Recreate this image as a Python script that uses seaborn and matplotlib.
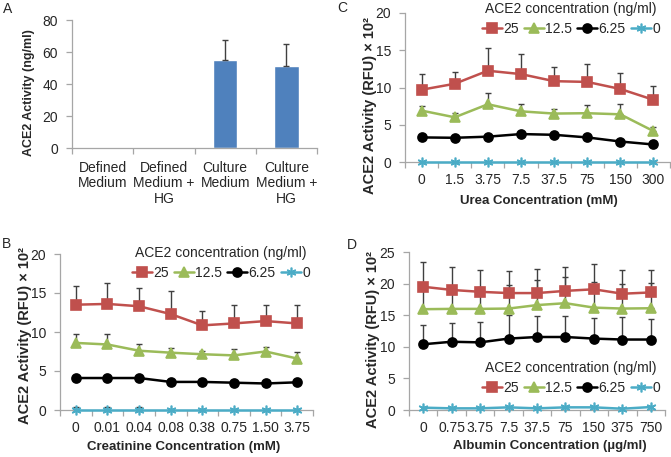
import numpy as np
import pandas as pd
import matplotlib
matplotlib.use("Agg")
import matplotlib.pyplot as plt
import seaborn as sns

# ---------------- data ----------------
a_categories = ["Defined\nMedium", "Defined\nMedium +\nHG", "Culture\nMedium", "Culture\nMedium +\nHG"]
a_values = [0, 0, 54.8, 51.5]
a_errors = [0, 0, 12.5, 13.7]

series_labels = ["25", "12.5", "6.25", "0"]

b_ticks = ["0", "0.01", "0.04", "0.08", "0.38", "0.75", "1.50", "3.75"]
b_25 = [13.5, 13.6, 13.3, 12.3, 10.85, 11.1, 11.4, 11.1]
b_25_err = [2.45, 2.7, 2.4, 3.0, 1.85, 2.4, 2.0, 2.4]
b_12 = [8.6, 8.4, 7.6, 7.35, 7.15, 7.0, 7.5, 6.6]
b_12_err = [1.1, 1.3, 0.9, 0.65, 0.45, 0.8, 0.6, 0.9]
b_6 = [4.1, 4.1, 4.1, 3.6, 3.6, 3.5, 3.4, 3.55]
b_6_err = [0.15, 0.15, 0.15, 0.15, 0.15, 0.15, 0.15, 0.15]
b_0 = [0.05, 0.05, 0.05, 0.05, 0.05, 0.05, 0.05, 0.05]
b_0_err = [0.3, 0.3, 0.3, 0.1, 0.1, 0.1, 0.1, 0.1]

c_ticks = ["0", "1.5", "3.75", "7.5", "37.5", "75", "150", "300"]
c_25 = [9.7, 10.5, 12.25, 11.8, 10.85, 10.75, 9.8, 8.35]
c_25_err = [2.05, 1.6, 3.05, 2.65, 1.85, 2.45, 2.2, 1.9]
c_12 = [6.9, 6.0, 7.75, 6.8, 6.5, 6.55, 6.4, 4.15]
c_12_err = [0.6, 0.55, 1.45, 1.05, 0.6, 1.1, 1.4, 0.5]
c_6 = [3.3, 3.25, 3.4, 3.75, 3.65, 3.3, 2.75, 2.35]
c_6_err = [0.15, 0.15, 0.15, 0.15, 0.15, 0.15, 0.15, 0.15]
c_0 = [0, 0, 0, 0, 0, 0, 0, 0]
c_0_err = [0, 0, 0, 0, 0, 0, 0, 0]

d_ticks = ["0", "0.75", "3.75", "7.5", "37.5", "75", "150", "375", "750"]
d_25 = [19.5, 19.0, 18.7, 18.5, 18.5, 18.85, 19.1, 18.4, 18.6]
d_25_err = [3.85, 3.6, 3.4, 3.5, 3.8, 3.75, 4.0, 3.7, 3.5]
d_12 = [15.95, 16.0, 16.0, 16.05, 16.6, 16.9, 16.2, 16.05, 16.1]
d_12_err = [3.65, 3.5, 3.4, 3.75, 4.0, 4.1, 4.0, 3.85, 4.0]
d_6 = [10.4, 10.8, 10.7, 11.3, 11.55, 11.55, 11.3, 11.15, 11.15]
d_6_err = [3.05, 3.0, 3.2, 3.7, 3.4, 3.35, 3.25, 3.5, 3.25]
d_0 = [0.37, 0.26, 0.26, 0.42, 0.26, 0.42, 0.42, 0.2, 0.47]
d_0_err = [0, 0, 0, 0, 0, 0, 0, 0, 0]

# ---------------- style ----------------
sns.set_style("ticks")
plt.rcParams["font.family"] = ["Liberation Sans", "DejaVu Sans"]
AXC = "#a6a6a6"
colors = {"25": "#c0504d", "12.5": "#9bbb59", "6.25": "#000000", "0": "#4bacc6"}
markers = {"25": "s", "12.5": "^", "6.25": "o", "0": (6, 2, 0)}
msizes = {"25": 6.5, "12.5": 6.5, "6.25": 6.5, "0": 7}
TICK_FS = 10
ERRC = "#404040"

W, H = 671, 457
fig = plt.figure(figsize=(W / 100, H / 100), dpi=100)


def add_axes_px(left, top, right, bottom):
    return fig.add_axes([left / W, 1 - bottom / H, (right - left) / W, (bottom - top) / H])


def style_axes(ax, n, labels, ylim, yticks):
    for s in ["top", "right"]:
        ax.spines[s].set_visible(False)
    for s in ["left", "bottom"]:
        ax.spines[s].set_color(AXC)
        ax.spines[s].set_linewidth(0.9)
    ax.set_xlim(-0.5, n - 0.5)
    ax.set_xticks(np.arange(n + 1) - 0.5)
    ax.set_xticklabels([""] * (n + 1))
    ax.set_xticks(np.arange(n), minor=True)
    ax.set_xticklabels(labels, minor=True, fontsize=TICK_FS)
    ax.tick_params(axis="x", which="major", direction="out", length=4, color=AXC, width=0.9)
    ax.tick_params(axis="x", which="minor", length=0, pad=8)
    ax.set_ylim(*ylim)
    ax.set_yticks(yticks)
    ax.set_yticklabels([str(t) for t in yticks], fontsize=TICK_FS)
    ax.tick_params(axis="y", direction="out", length=4, color=AXC, width=0.9, pad=6)
    ax.set_xlabel("")
    ax.set_ylabel("")


def draw_errors(ax, pos, vals, errs, z):
    pos = np.asarray(pos)
    v = np.asarray(vals, dtype=float)
    e = np.asarray(errs, dtype=float)
    keep = e > 0
    if keep.any():
        ax.errorbar(pos[keep], v[keep], yerr=[np.zeros(keep.sum()), e[keep]], fmt="none",
                    ecolor=ERRC, elinewidth=1.0, capsize=2.2, capthick=1.0, zorder=z)


def line_panel(ax, ticks, vals, errs, ylim, yticks, xlabel, xlab_px, ylab_px, leg_px):
    n = len(ticks)
    pos = np.arange(n)
    for v, e in zip(vals, errs):
        draw_errors(ax, pos, v, e, 1.5)
    for lab, v in zip(series_labels, vals):
        df = pd.DataFrame({"pos": pos, "value": v})
        sns.lineplot(data=df, x="pos", y="value", ax=ax, color=colors[lab],
                     marker=markers[lab], markersize=msizes[lab],
                     markeredgecolor=colors[lab], markerfacecolor=colors[lab],
                     markeredgewidth=1.2, linewidth=1.8, label=lab, zorder=3,
                     clip_on=False)
    style_axes(ax, n, ticks, ylim, yticks)
    ax.set_xlabel(xlabel, fontsize=9.5, fontweight="bold")
    ax.xaxis.set_label_coords(xlab_px[0] / W, 1 - xlab_px[1] / H, transform=fig.transFigure)
    ax.set_ylabel("ACE2 Activity (RFU) × 10²", fontsize=10.5, fontweight="bold")
    ax.yaxis.set_label_coords(ylab_px[0] / W, 1 - ylab_px[1] / H, transform=fig.transFigure)
    handles, labels = ax.get_legend_handles_labels()
    leg = ax.legend(handles, labels, title="ACE2 concentration (ng/ml)", ncol=4,
                    loc="upper right", bbox_to_anchor=(leg_px[0] / W, 1 - leg_px[1] / H),
                    bbox_transform=fig.transFigure, frameon=False, fontsize=10,
                    title_fontsize=10, handlelength=1.45, handletextpad=0.1,
                    columnspacing=0.35, borderpad=0, borderaxespad=0, labelspacing=0.2)
    leg._legend_box.sep = 4
    return ax


# ---------------- Panel A ----------------
axA = add_axes_px(72, 20, 317, 148)
dfA = pd.DataFrame({"cat": a_categories, "value": a_values})
sns.barplot(data=dfA, x="cat", y="value", order=a_categories, color="#4f81bd",
            saturation=1, width=0.4, errorbar=None, ax=axA, zorder=2)
draw_errors(axA, np.arange(len(a_categories)), a_values, a_errors, 3)
style_axes(axA, 4, a_categories, (0, 80), [0, 20, 40, 60, 80])
for t in axA.get_xticklabels(minor=True):
    t.set_linespacing(1.15)
axA.tick_params(axis="x", which="minor", pad=9)
axA.set_ylabel("ACE2 Activity (ng/ml)", fontsize=9, fontweight="bold")
axA.yaxis.set_label_coords(35 / W, 1 - 92.5 / H, transform=fig.transFigure)

# ---------------- Panel C ----------------
axC = add_axes_px(405, 13, 670, 162)
line_panel(axC, c_ticks, [c_25, c_12, c_6, c_0], [c_25_err, c_12_err, c_6_err, c_0_err],
           (0, 20), [0, 5, 10, 15, 20], "Urea Concentration (mM)",
           (539, 195), (377, 106), (660, 2))

# ---------------- Panel B ----------------
axB = add_axes_px(60, 254, 313, 410)
line_panel(axB, b_ticks, [b_25, b_12, b_6, b_0], [b_25_err, b_12_err, b_6_err, b_0_err],
           (0, 20), [0, 5, 10, 15, 20], "Creatinine Concentration (mM)",
           (184, 441), (32, 335), (310, 246))

# ---------------- Panel D ----------------
axD = add_axes_px(409, 252, 665, 410)
line_panel(axD, d_ticks, [d_25, d_12, d_6, d_0], [d_25_err, d_12_err, d_6_err, d_0_err],
           (0, 25), [0, 5, 10, 15, 20, 25], "Albumin Concentration (µg/ml)",
           (550, 440), (380, 339), (660, 361))

# panel letters
for letter, x, y in [("A", 3, 9), ("C", 337, 8), ("B", 2, 244), ("D", 347, 245)]:
    fig.text(x / W, 1 - y / H, letter, fontsize=10, ha="left", va="center")

fig.savefig("out.png", dpi=100)
